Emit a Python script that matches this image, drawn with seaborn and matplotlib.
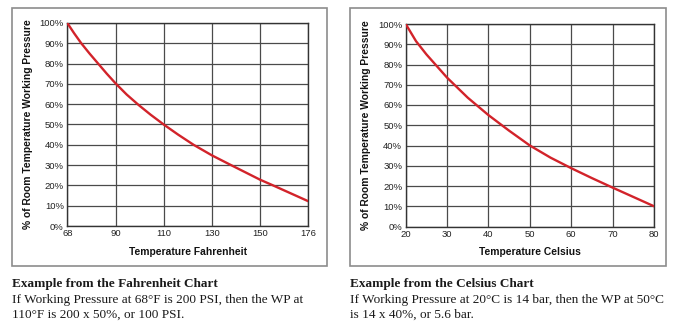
import matplotlib
matplotlib.use("Agg")
import matplotlib.pyplot as plt
import seaborn as sns
from matplotlib.patches import Rectangle

# ---- data ----
pct_ticks = [0, 10, 20, 30, 40, 50, 60, 70, 80, 90, 100]
pct_labels = [f"{v}%" for v in pct_ticks]

# Fahrenheit chart: x axis ticks are equally spaced (category-like grid),
# curve points given as position along that grid
f_tick_labels = ["68", "90", "110", "130", "150", "176"]
f_pos = [0, 0.14, 0.29, 0.46, 0.64, 0.82, 1.0, 1.23, 1.48, 1.73, 2.0, 2.3, 2.62,
         3.0, 3.38, 4.0, 4.25, 5.0]
f_val = [100, 95, 90, 85, 80.0, 75.0, 70.3, 64.8, 59.6, 54.8, 50, 45, 40,
         34.8, 30.2, 22.8, 20.2, 12.2]

# Celsius chart
c_ticks = [20, 30, 40, 50, 60, 70, 80]
c_temp = [20, 22.5, 25, 30, 35, 40, 45, 50, 55, 60, 65, 70, 75, 80]
c_val = [100, 91.5, 85, 73.5, 63.6, 55, 47.3, 40, 34.0, 28.8, 23.9, 19.2, 14.6, 10]

# ---- style ----
sns.set_style("white")
plt.rcParams["font.family"] = ["Liberation Sans", "DejaVu Sans"]

W, H = 675, 334
fig = plt.figure(figsize=(W / 100, H / 100), dpi=100)
fig.patch.set_facecolor("white")

def fx(px):
    return px / W

def fy(py):
    return 1 - py / H

# outer frames
for (x0, y0, x1, y1) in [(11.7, 8.3, 326.7, 265.7), (350, 8.3, 666, 266)]:
    fig.patches.append(Rectangle((fx(x0), fy(y1)), fx(x1 - x0), (y1 - y0) / H,
                                 transform=fig.transFigure, fill=False,
                                 edgecolor="#8c8c8c", linewidth=1.2, zorder=0))

RED = "#d2232a"
GRID = "#4a4a4a"

def style_axes(ax, xlabel):
    ax.set_ylim(0, 100)
    ax.set_yticks(pct_ticks)
    ax.set_yticklabels(pct_labels)
    ax.grid(True, color=GRID, linewidth=0.9)
    ax.set_axisbelow(True)
    for s in ax.spines.values():
        s.set_color("#333333")
        s.set_linewidth(1.0)
        s.set_visible(True)
    ax.tick_params(length=0, labelsize=6.8, labelcolor="#222222", pad=2.5)
    ax.set_xlabel(xlabel, fontsize=7.4, fontweight="bold", color="#111111", labelpad=6)
    ax.set_ylabel("% of Room Temperature Working Pressure", fontsize=7.4,
                  fontweight="bold", color="#111111", labelpad=5)

# Left: Fahrenheit
ax1 = fig.add_axes([fx(67.3), fy(226), fx(241), 203 / H])
sns.lineplot(x=f_pos, y=f_val, ax=ax1, color=RED, linewidth=1.7, zorder=3)
ax1.set_xlim(0, 5)
ax1.set_xticks(range(len(f_tick_labels)))
ax1.set_xticklabels(f_tick_labels)
style_axes(ax1, "Temperature Fahrenheit")

# Right: Celsius
ax2 = fig.add_axes([fx(405.7), fy(226.5), fx(248.3), 202.5 / H])
sns.lineplot(x=c_temp, y=c_val, ax=ax2, color=RED, linewidth=1.7, zorder=3)
ax2.set_xlim(20, 80)
ax2.set_xticks(c_ticks)
style_axes(ax2, "Temperature Celsius")

# Captions below
serif = ["Liberation Serif", "DejaVu Serif"]
cap = [
    (11.7, "Example from the Fahrenheit Chart",
     "If Working Pressure at 68°F is 200 PSI, then the WP at",
     "110°F is 200 x 50%, or 100 PSI."),
    (349.5, "Example from the Celsius Chart",
     "If Working Pressure at 20°C is 14 bar, then the WP at 50°C",
     "is 14 x 40%, or 5.6 bar."),
]
for x, head, l1, l2 in cap:
    fig.text(fx(x), fy(286.7), head, family=serif, fontsize=9.5, fontweight="bold",
             color="#1a1a1a", va="baseline", ha="left")
    fig.text(fx(x), fy(302.7), l1, family=serif, fontsize=9.5,
             color="#1a1a1a", va="baseline", ha="left")
    fig.text(fx(x), fy(317.7), l2, family=serif, fontsize=9.5,
             color="#1a1a1a", va="baseline", ha="left")

fig.savefig("out.png", dpi=100)
